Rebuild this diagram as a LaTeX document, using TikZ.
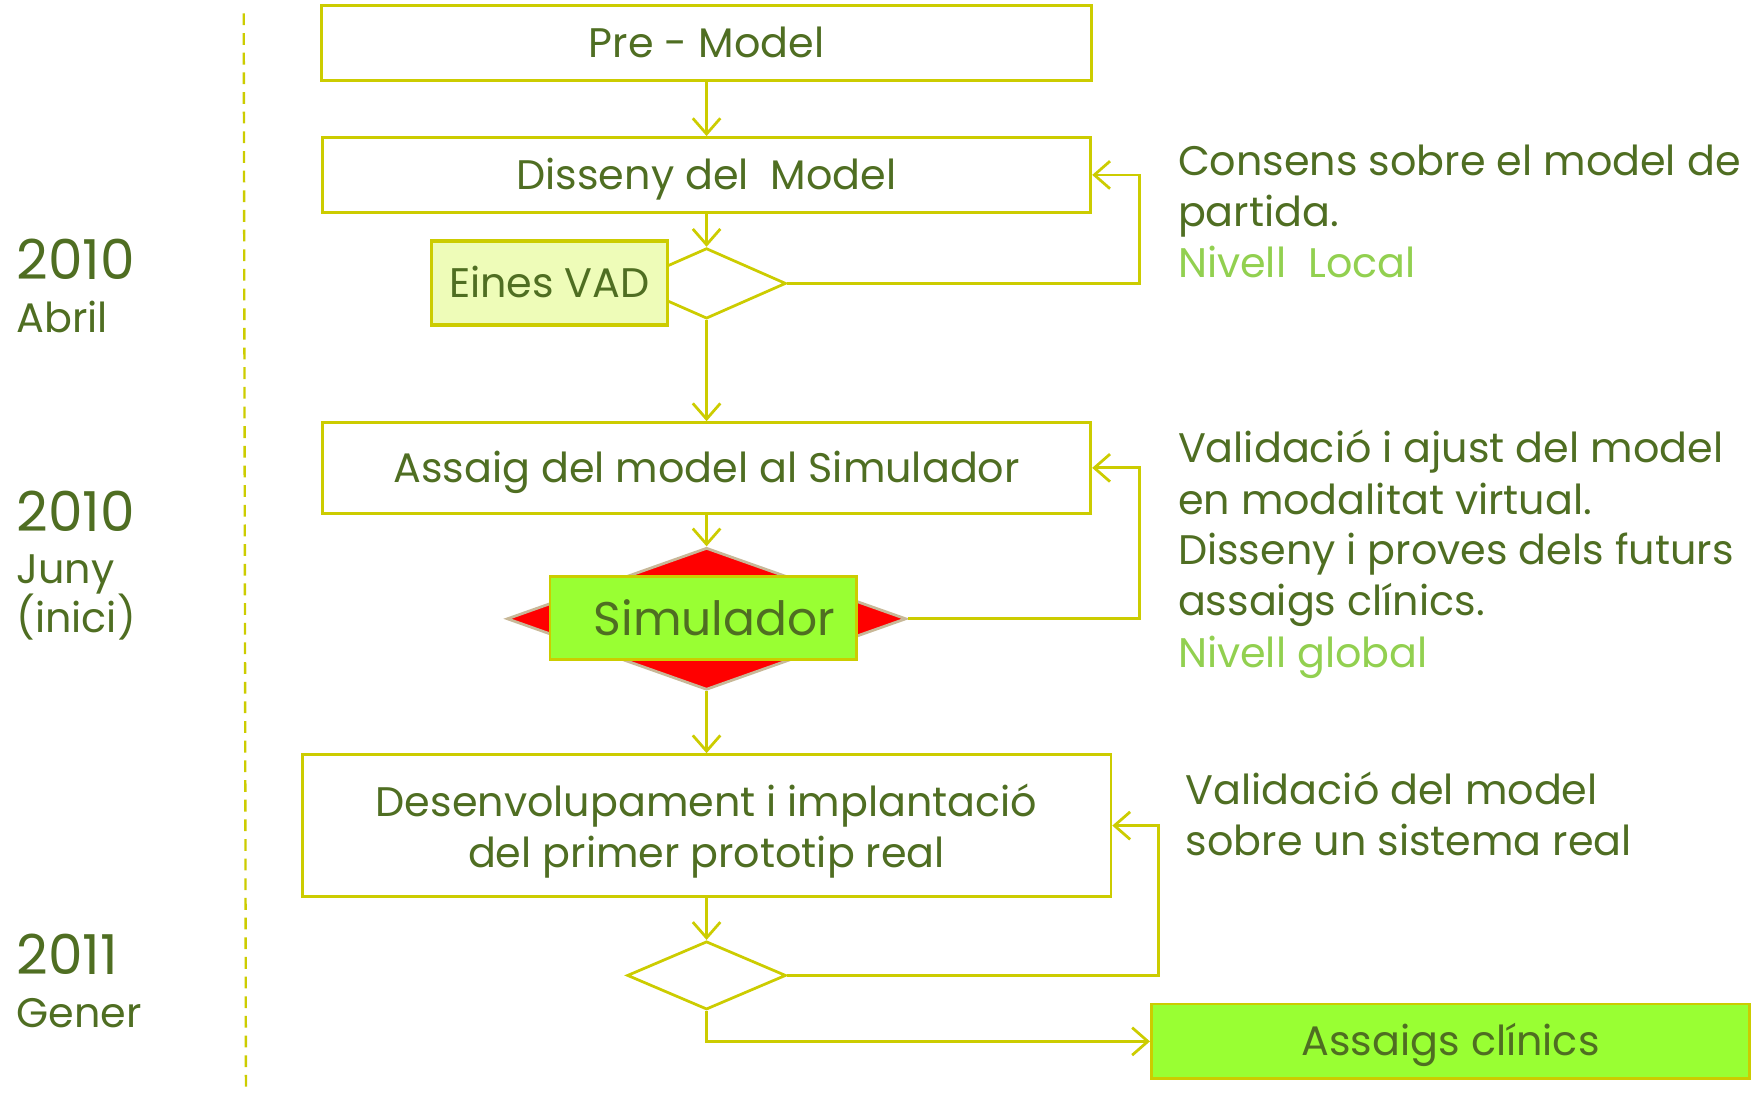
\documentclass[tikz,border=0pt]{standalone}
\usepackage{fontspec}
\setmainfont{Poppins}
\usetikzlibrary{arrows.meta,shapes.geometric}
\definecolor{ln}{HTML}{CCCC00}
\definecolor{txt}{HTML}{4F6E22}
\definecolor{lt}{HTML}{92D050}
\definecolor{gfill}{HTML}{99FF33}
\definecolor{pfill}{HTML}{EEFCB8}
\definecolor{dborder}{HTML}{C8B898}
\tikzset{
  box/.style={draw=ln, line width=0.7pt, fill=white, rectangle, inner sep=0pt, text=txt, align=center, text depth=0pt},
  one/.style={text height=0.74em},
  gbox/.style={box, fill=gfill},
  dec/.style={draw=ln, line width=0.7pt, fill=white, diamond, inner sep=0pt},
  arr/.style={draw=ln, line width=0.7pt, -{Straight Barb[length=4pt,width=7pt,line width=0.7pt]}},
  lbl/.style={anchor=base west, inner sep=0pt, text=txt, font=\fontsize{10.5}{12}\selectfont},
  lblg/.style={lbl, text=lt},
  year/.style={anchor=base west, inner sep=0pt, text=txt, font=\fontsize{14}{16}\selectfont},
}
\begin{document}
\begin{tikzpicture}[x=0.01cm, y=-0.01cm, font=\fontsize{10.5}{12}\selectfont]
\useasboundingbox (0,0) rectangle (1568,980);
% timeline
\draw[ln, line width=0.6pt, dash pattern=on 3pt off 2pt] (218,12) -- (220,975);
% boxes
\node[box, one, minimum width=6.88cm, minimum height=0.67cm] (pre) at (632,38.5) {Pre - Model};
\node[box, one, minimum width=6.87cm, minimum height=0.67cm] (dis) at (632,156.5) {Disseny del\ \ Model};
\node[dec, minimum width=1.42cm, minimum height=0.63cm] (d1) at (632,253.5) {};
\node[box, one, fill=pfill, line width=1pt, minimum width=2.11cm, minimum height=0.75cm] (vad) at (491.5,253.5) {Eines VAD};
\node[box, one, minimum width=6.87cm, minimum height=0.81cm] (ass) at (632,418.5) {Assaig del model al Simulador};
\node[draw=dborder, line width=0.7pt, fill=red, diamond, inner sep=0pt, minimum width=3.57cm, minimum height=1.27cm] (sd) at (632,553.5) {};
\node[gbox, minimum width=2.74cm, minimum height=0.74cm] (sb) at (629,553) {};
\node[text=txt, inner sep=0pt, font=\fontsize{12}{14}\selectfont] (st) at (639,553) {Simulador};
\node[box, minimum width=7.23cm, minimum height=1.27cm] (des) at (632,738.5) {Desenvolupament i implantació\\[1pt]del primer prototip real};
\node[dec, minimum width=1.42cm, minimum height=0.61cm] (d3) at (632,872.5) {};
\node[gbox, one, minimum width=5.35cm, minimum height=0.67cm] (ac) at (1297.5,931.5) {Assaigs clínics};
% loop columns
\coordinate (c1) at (1019,0);
\coordinate (c2) at (1036,0);
% connectors
\draw[arr] (pre.south) -- (dis.north);
\draw[arr] (dis.south) -- (d1.north);
\draw[arr] (d1.south) -- (ass.north);
\draw[arr] (ass.south) -- (sd.north);
\draw[arr] (sd.south) -- (des.north);
\draw[arr] (des.south) -- (d3.north);
\draw[arr] (d1.east) -- (d1.east -| c1) |- (dis.east);
\draw[arr] (sd.east) -- (sd.east -| c1) |- (ass.east);
\draw[arr] (d3.east) -- (d3.east -| c2) |- (des.east);
\draw[arr] (d3.south) |- (ac.west);
% right annotations
\node[lbl] (a1) at (1053,157) {Consens sobre el model de};
\node[lbl] (a2) at (1053,203) {partida.};
\node[lblg] (a3) at (1053,248) {Nivell\ \ Local};
\node[lbl] (b1) at (1053,414) {Validació i ajust del model};
\node[lbl] (b2) at (1053,460) {en modalitat virtual.};
\node[lbl] (b3) at (1053,505) {Disseny i proves dels futurs};
\node[lbl] (b4) at (1053,551) {assaigs clínics.};
\node[lblg] (b5) at (1053,597) {Nivell global};
\node[lbl] (e1) at (1060,720) {Validació del model};
\node[lbl] (e2) at (1060,765) {sobre un sistema real};
% timeline labels
\node[year] (y1) at (14,250) {2010};
\node[lbl] (m1) at (14,297) {Abril};
\node[year] (y2) at (14,475) {2010};
\node[lbl] (m2) at (14,522) {Juny};
\node[lbl] (m2b) at (14,566) {(inici)};
\node[year] (y3) at (14,872) {2011};
\node[lbl] (m3) at (14,919) {Gener};
\end{tikzpicture}
\end{document}
